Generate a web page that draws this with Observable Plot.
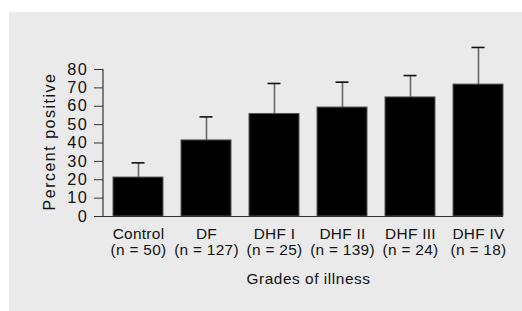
<!DOCTYPE html>
<html>
<head>
<meta charset="utf-8">
<script src="https://cdn.jsdelivr.net/npm/d3@7"></script>
<script src="https://cdn.jsdelivr.net/npm/@observablehq/plot@0.6"></script>
<style>
  html, body { margin: 0; padding: 0; background: #ffffff; }
  #panel { position: absolute; left: 9px; top: 12px; width: 513px; height: 299px; background: #eaeaea; }
  #panel svg { display: block; }
  #panel g[aria-label="y-axis tick label"] { letter-spacing: 1.6px; }
  #panel g[aria-label="x-axis tick label"] { letter-spacing: 0.3px; }
</style>
</head>
<body>
<div id="panel"></div>
<script>
const categories = ["Control", "DF", "DHF I", "DHF II", "DHF III", "DHF IV"];
const sampleSizes = [50, 127, 25, 139, 24, 18];
const percentPositive = [21.2, 41.4, 55.8, 59.3, 64.8, 71.8];
const errorUpper = [29.2, 54.2, 72.4, 73.1, 76.7, 92.0];
const yTicks = [0, 10, 20, 30, 40, 50, 60, 70, 80];
const yLabel = "Percent positive";
const xLabel = "Grades of illness";

const data = categories.map((c, i) => ({cat: c, n: sampleSizes[i], value: percentPositive[i], upper: errorUpper[i]}));
const nByCat = new Map(data.map(d => [d.cat, d.n]));

const font = "'Liberation Sans', Arial, Helvetica, sans-serif";

const yAxisLine = (index, scales, values, dims) => {
  const g = document.createElementNS("http://www.w3.org/2000/svg", "line");
  g.setAttribute("x1", dims.marginLeft);
  g.setAttribute("x2", dims.marginLeft);
  g.setAttribute("y1", scales.y(yTicks[0]));
  g.setAttribute("y2", scales.y(yTicks[yTicks.length - 1]));
  g.setAttribute("stroke", "#333");
  g.setAttribute("stroke-width", 1.2);
  return g;
};

const chart = Plot.plot({
  width: 513,
  height: 299,
  marginLeft: 94,
  marginRight: 19,
  marginTop: 57,
  marginBottom: 95,
  style: {background: "transparent", fontFamily: font, color: "#111"},
  x: {domain: categories, paddingInner: 0.27, paddingOuter: 0.072, align: 1},
  y: {domain: [0, 80]},
  marks: [
    Plot.ruleX(data, {x: "cat", y1: "value", y2: "upper", stroke: "#666", strokeWidth: 1.6}),
    Plot.tickY(data, {x: "cat", y: "upper", stroke: "#111", strokeWidth: 1.6, insetLeft: 18.5, insetRight: 18.5}),
    Plot.barY(data, {x: "cat", y: "value", fill: "#000", stroke: "#555", strokeWidth: 1}),
    Plot.ruleY([0], {stroke: "#333", strokeWidth: 1.2}),
    yAxisLine,
    Plot.axisY({ticks: yTicks, tickSize: 9, tickPadding: 6, fontSize: 16.3, stroke: "#333", label: null}),
    Plot.axisX({tickSize: 0, tickPadding: 12, fontSize: 15.4, lineHeight: 1.0, label: null,
      tickFormat: c => `${c}\n(n = ${nByCat.get(c)})`}),
    Plot.text([yLabel], {frameAnchor: "left", textAnchor: "middle", rotate: -90, dx: -54, dy: -1.5, fontSize: 16, text: d => d, fill: "#111"}),
    Plot.text([xLabel], {frameAnchor: "bottom", lineAnchor: "top", dx: 5, dy: 57, fontSize: 15.4, text: d => d, fill: "#111"})
  ]
});
const textGroups = chart.querySelectorAll('g[aria-label="text"]');
if (textGroups[0]) textGroups[0].style.letterSpacing = "1.5px";
if (textGroups[1]) textGroups[1].style.letterSpacing = "0.55px";
document.getElementById("panel").appendChild(chart);
</script>
</body>
</html>
